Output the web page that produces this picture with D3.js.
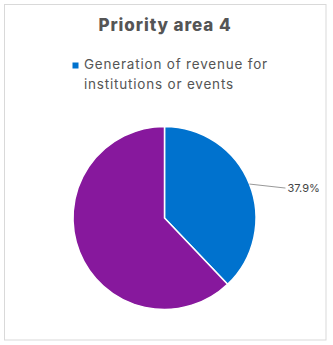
<!DOCTYPE html>
<html><head><meta charset="utf-8">
<script src="https://cdn.jsdelivr.net/npm/d3@7"></script>
<style>html,body{margin:0;padding:0;background:#fff}</style>
</head><body>
<script>
const categories = ["Generation of revenue for institutions or events", "Other"];
const values = [37.9, 62.1];
const colors = ["#0072CE", "#87189D"];
const labels = ["37.9%", ""];
const title = "Priority area 4";
const legendLines = ["Generation of revenue for", "institutions or events"];

const W = 333, H = 345;
const svg = d3.select("body").append("svg").attr("width", W).attr("height", H);
svg.append("rect").attr("x", 4.5).attr("y", 4.5).attr("width", 321.5).attr("height", 335.5)
  .attr("fill", "#fff").attr("stroke", "#d9d9d9").attr("stroke-width", 1);

const font = "Inter, sans-serif";
const tt = svg.append("text").attr("x", 165).attr("y", 31).attr("text-anchor", "middle")
  .attr("font-family", font).attr("font-weight", 800).attr("font-size", 17)
  .attr("fill", "#555").text(title);
const tw = tt.node().getComputedTextLength();
tt.attr("letter-spacing", ((133 - tw) / title.length).toFixed(2));

svg.append("rect").attr("x", 72.5).attr("y", 62.5).attr("width", 6).attr("height", 6).attr("fill", colors[0]);
const lt = svg.append("text").attr("font-family", font).attr("font-size", 13.5).attr("fill", "#555");
const spans = legendLines.map((l, i) => lt.append("tspan").attr("x", 84).attr("y", 69 + i * 20).text(l));
const w0 = spans[0].node().getComputedTextLength();
lt.attr("letter-spacing", ((184 - w0) / legendLines[0].length).toFixed(2));

const cx = 164.5, cy = 218, r = 91.5;
const pie = d3.pie().sort(null).value(d => d)(values);
const arc = d3.arc().innerRadius(0).outerRadius(r);
const g = svg.append("g").attr("transform", `translate(${cx},${cy})`);
g.selectAll("path").data(pie).join("path").attr("d", arc)
  .attr("fill", (d, i) => colors[i]).attr("stroke", "#fff").attr("stroke-width", 1.5);

pie.forEach((d, i) => {
  if (!labels[i]) return;
  const a = (d.startAngle + d.endAngle) / 2;
  const p0 = [Math.sin(a) * r, -Math.cos(a) * r];
  const p1 = [p0[0] + 36, p0[1] + 4];
  g.append("polyline").attr("points", [p0, p1].map(p => p.join(",")).join(" "))
    .attr("fill", "none").attr("stroke", "#999").attr("stroke-width", 1);
  g.append("text").attr("x", p1[0] + 2).attr("y", p1[1] + 4)
    .attr("font-family", font).attr("font-size", 11).attr("fill", "#444").text(labels[i]);
});
</script>
</body></html>
